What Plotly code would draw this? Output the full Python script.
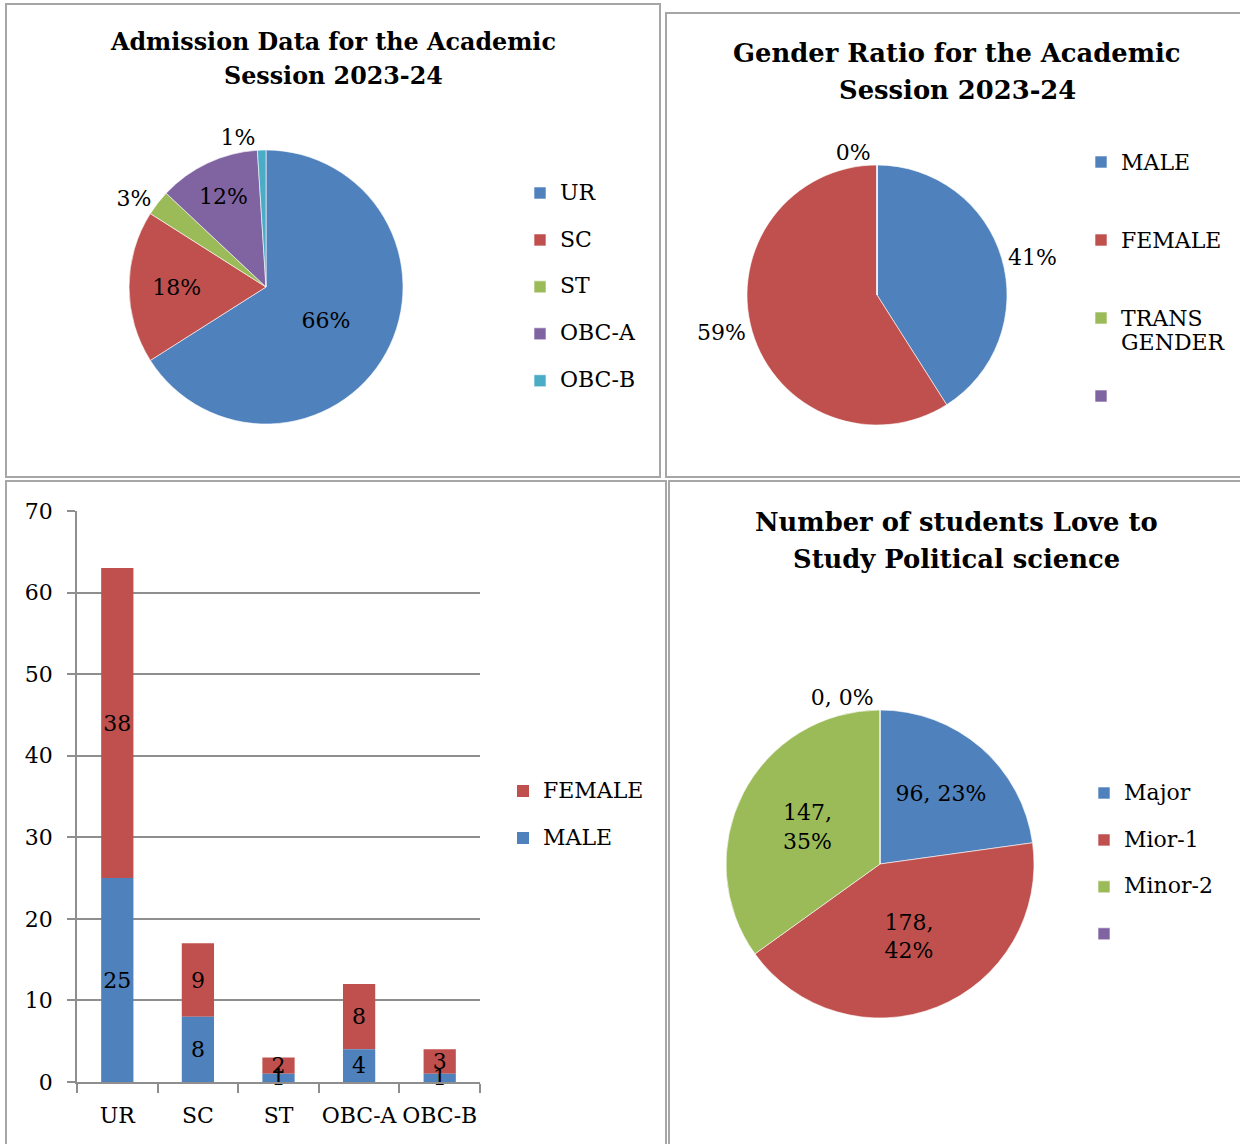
import plotly.graph_objects as go

W, H = 1240, 1144


def px(x):
    return x / W


def py(y):
    return 1 - y / H


FONT = "DejaVu Serif"
BLUE, RED, GREEN, PURPLE, TEAL = "#4F81BD", "#C0504D", "#9BBB59", "#8064A2", "#4BACC6"
GRID = "#8E8E8E"

# ---------------- data ----------------
adm_labels = ["UR", "SC", "ST", "OBC-A", "OBC-B"]
adm_values = [66, 18, 3, 12, 1]
adm_textpos = ["inside", "inside", "outside", "inside", "outside"]

gender_labels = ["MALE", "FEMALE", "TRANS|GENDER", ""]
gender_values = [41, 59, 0, 0]

bar_categories = ["UR", "SC", "ST", "OBC-A", "OBC-B"]
bar_male = [25, 8, 1, 4, 1]
bar_female = [38, 9, 2, 8, 3]
y_tick_vals = [0, 10, 20, 30, 40, 50, 60, 70]

pol_labels = ["Major", "Mior-1", "Minor-2", ""]
pol_values = [96, 178, 147, 0]
pol_textpos = ["inside", "inside", "inside", "outside"]
pol_template = ["%{value}, %{percent:.0%}", "%{value},<br>%{percent:.0%}",
                "%{value},<br>%{percent:.0%}", "%{value}, %{percent:.0%}"]

TXT = 22


def leg(label, nlines):
    parts = label.split("|") if label else []
    lines = ["<span style='font-size:%dpx'>%s</span>" % (TXT, p) for p in parts]
    while len(lines) < nlines:
        lines.append(" ")
    return "<br>".join(lines)


fig = go.Figure()

# Panel 1: admission pie
fig.add_trace(go.Pie(
    labels=[leg(l, 2) for l in adm_labels], values=adm_values,
    sort=False, direction="clockwise", rotation=0,
    marker=dict(colors=[BLUE, RED, GREEN, PURPLE, TEAL],
                line=dict(color="rgba(255,255,255,0.6)", width=1)),
    texttemplate="%{percent:.0%}", textposition=adm_textpos,
    insidetextorientation="horizontal",
    textfont=dict(family=FONT, size=TXT, color="black"),
    domain=dict(x=[px(129), px(403)], y=[py(424), py(150)]),
    legend="legend", automargin=False,
))

# Panel 2: gender pie
fig.add_trace(go.Pie(
    labels=[leg(l, 3) for l in gender_labels], values=gender_values,
    sort=False, direction="clockwise", rotation=0,
    marker=dict(colors=[BLUE, RED, GREEN, PURPLE],
                line=dict(color="rgba(255,255,255,0.6)", width=1)),
    texttemplate=["%{percent:.0%}", "%{percent:.0%}", "%{percent:.0%}", ""],
    textposition="outside",
    textfont=dict(family=FONT, size=TXT, color="black"),
    domain=dict(x=[px(747), px(1007)], y=[py(425), py(165)]),
    legend="legend2", automargin=False,
))

# Panel 3: stacked bars (female stacked on male; male drawn last so its labels stay on top)
fig.add_trace(go.Bar(
    x=bar_categories, y=bar_female, base=bar_male, name=leg("FEMALE", 2),
    marker_color=RED, marker_line_width=0,
    text=bar_female, textposition="inside", insidetextanchor="middle",
    constraintext="none", textangle=0, cliponaxis=False,
    insidetextfont=dict(family=FONT, size=TXT, color="black"),
    xaxis="x", yaxis="y", legend="legend3",
))
fig.add_trace(go.Bar(
    x=bar_categories, y=bar_male, name=leg("MALE", 2),
    marker_color=BLUE, marker_line_width=0,
    text=bar_male, textposition="inside", insidetextanchor="middle",
    constraintext="none", textangle=0, cliponaxis=False,
    insidetextfont=dict(family=FONT, size=TXT, color="black"),
    xaxis="x", yaxis="y", legend="legend3",
))

# Panel 4: political science pie
fig.add_trace(go.Pie(
    labels=[leg(l, 2) for l in pol_labels], values=pol_values,
    sort=False, direction="clockwise", rotation=0,
    marker=dict(colors=[BLUE, RED, GREEN, PURPLE],
                line=dict(color="rgba(255,255,255,0.6)", width=1)),
    texttemplate=pol_template, textposition=pol_textpos,
    insidetextorientation="horizontal",
    textfont=dict(family=FONT, size=TXT, color="black"),
    domain=dict(x=[px(726), px(1034)], y=[py(1018), py(710)]),
    legend="legend4", automargin=False,
))

# borders
border = dict(type="rect", xref="paper", yref="paper",
              line=dict(color="#A6A6A6", width=2), fillcolor="rgba(0,0,0,0)")
shapes = [
    dict(border, x0=px(6), x1=px(660), y0=py(477), y1=py(4)),
    dict(border, x0=px(666), x1=px(1250), y0=py(477), y1=py(13)),
    dict(border, x0=px(6), x1=px(666), y0=py(1160), y1=py(481)),
    dict(border, x0=px(669), x1=px(1250), y0=py(1160), y1=py(481)),
]

title_font = dict(family=FONT, size=24, color="black", weight="bold")
titles = [
    ("Admission Data for the Academic", 333, 42, 23.8),
    ("Session 2023-24", 333, 76, 23.8),
    ("Gender Ratio for the Academic", 957, 53, 25.8),
    ("Session 2023-24", 957, 90, 25.8),
    ("Number of students Love to", 956, 522, 25.8),
    ("Study Political science", 956, 559, 25.8),
]
annotations = [
    dict(text=t, x=px(x), y=py(y), xref="paper", yref="paper",
         xanchor="center", yanchor="middle", showarrow=False,
         font=dict(title_font, size=s))
    for t, x, y, s in titles
]


def legend_cfg(x, top, size):
    return dict(x=px(x), y=py(top), xanchor="left", yanchor="top",
                xref="paper", yref="paper", valign="top",
                font=dict(family=FONT, size=size, color="black"),
                bgcolor="rgba(0,0,0,0)", borderwidth=0, tracegroupgap=0)


fig.update_layout(
    width=W, height=H,
    margin=dict(l=0, r=0, t=0, b=0, pad=0, autoexpand=False),
    paper_bgcolor="white", plot_bgcolor="white",
    showlegend=True,
    barmode="overlay", bargap=0.6,
    font=dict(family=FONT, size=TXT, color="black"),
    legend=legend_cfg(520, 175.5, 16.9),
    legend2=legend_cfg(1081, 143, 19.23),
    legend3=dict(legend_cfg(503, 773.5, 16.9), traceorder="normal"),
    legend4=legend_cfg(1084, 775.5, 16.9),
    xaxis=dict(domain=[px(77), px(480)], anchor="y", range=[-0.5, 4.5],
               automargin=False, tickangle=0,
               showline=True, linecolor=GRID, linewidth=1.5,
               ticks="outside", tickson="boundaries", ticklen=9,
               tickcolor=GRID, tickwidth=1.5, ticklabelstandoff=13,
               tickfont=dict(family=FONT, size=TXT, color="black"),
               showgrid=False, fixedrange=True),
    yaxis=dict(domain=[py(1082), py(511)], anchor="x", range=[0, 70],
               automargin=False,
               tickvals=y_tick_vals, showline=True, linecolor=GRID,
               linewidth=1.5, ticks="outside", ticklen=8, tickcolor=GRID,
               tickwidth=1.5, showgrid=True, gridcolor=GRID, gridwidth=1.5,
               zeroline=False, ticklabelstandoff=10,
               tickfont=dict(family=FONT, size=TXT, color="black"),
               fixedrange=True),
    shapes=shapes,
    annotations=annotations,
)

fig.write_html(
    "out.html",
    config={"displayModeBar": False},
    post_script="document.body.style.margin='0';document.body.style.overflow='hidden';",
)
